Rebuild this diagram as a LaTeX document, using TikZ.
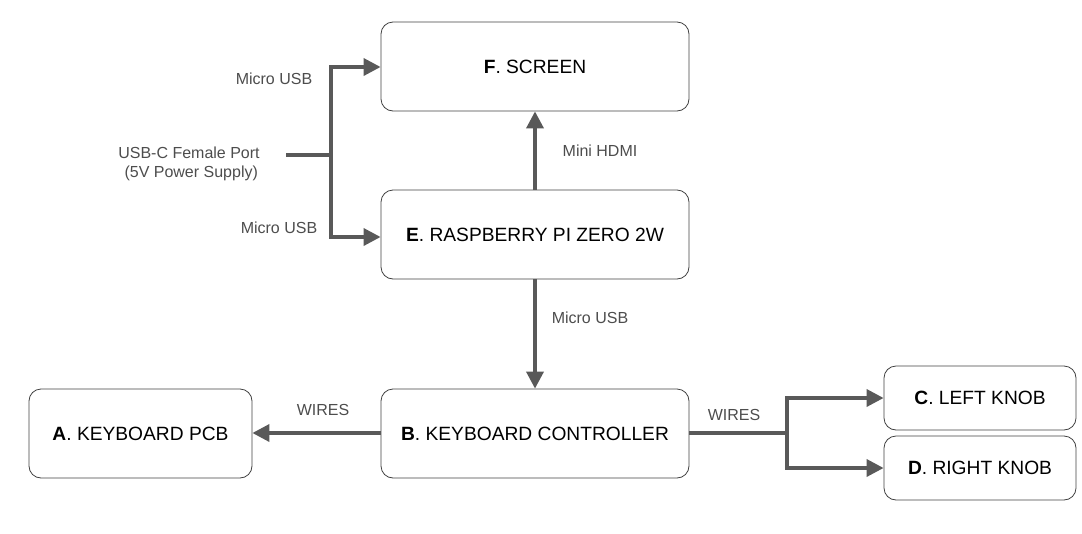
\documentclass[tikz,border=0pt]{standalone}
\usepackage{fontspec}
\setmainfont{Liberation Sans}
\usetikzlibrary{arrows.meta}
\definecolor{linec}{HTML}{595959}
\definecolor{labc}{HTML}{4D4D4D}
\begin{document}
\begin{tikzpicture}[x=1pt,y=-1pt,
  blk/.style={draw=black!75, line width=0.8pt, rounded corners=12pt, inner sep=0pt, font=\fontsize{19.2}{22}\selectfont},
  conn/.style={draw=linec, line width=3.5pt, -{Triangle[length=17pt,width=17pt]}},
  plain/.style={draw=linec, line width=3.5pt},
  lab/.style={text=labc, font=\fontsize{16}{19}\selectfont, inner sep=0pt}]
\useasboundingbox (0,0) rectangle (1082,533);
% boxes
\node[blk, minimum width=308pt, minimum height=89pt] (F) at (535,66.5) {\textbf{F}. SCREEN};
\node[blk, minimum width=308pt, minimum height=89pt] (E) at (535,234.5) {\textbf{E}. RASPBERRY PI ZERO 2W};
\node[blk, minimum width=308pt, minimum height=89pt] (B) at (535,433.5) {\textbf{B}. KEYBOARD CONTROLLER};
\node[blk, minimum width=223pt, minimum height=89pt] (A) at (140.5,433.5) {\textbf{A}. KEYBOARD PCB};
\node[blk, minimum width=192pt, minimum height=64pt] (C) at (980,398) {\textbf{C}. LEFT KNOB};
\node[blk, minimum width=192pt, minimum height=64pt] (D) at (980,468) {\textbf{D}. RIGHT KNOB};
% power source
\node[lab, align=center] (P) at (189,164) {USB-C Female Port\\\ (5V Power Supply)};
\coordinate (ps) at (286,155);
\coordinate (pj) at (331,155);
\coordinate (bj) at (787,433);
% connectors
\draw[plain] (ps) -- (pj);
\draw[conn] (pj) |- (F.west |- 0,67);
\draw[conn] (pj) |- (E.west |- 0,237);
\draw[conn] (E.north) -- (F.south);
\draw[conn] (E.south) -- (B.north);
\draw[conn] (B.west |- 0,433) -- (A.east |- 0,433);
\draw[plain] (B.east |- 0,433) -- (bj);
\draw[conn] (bj) |- (C.west);
\draw[conn] (bj) |- (D.west);
% labels
\node[lab] (l1) at (274,79) {Micro USB};
\node[lab] (l2) at (279,228) {Micro USB};
\node[lab] (l3) at (600,151) {Mini HDMI};
\node[lab] (l4) at (590,318) {Micro USB};
\node[lab] (l5) at (323,410) {WIRES};
\node[lab] (l6) at (734,415) {WIRES};
\end{tikzpicture}
\end{document}
